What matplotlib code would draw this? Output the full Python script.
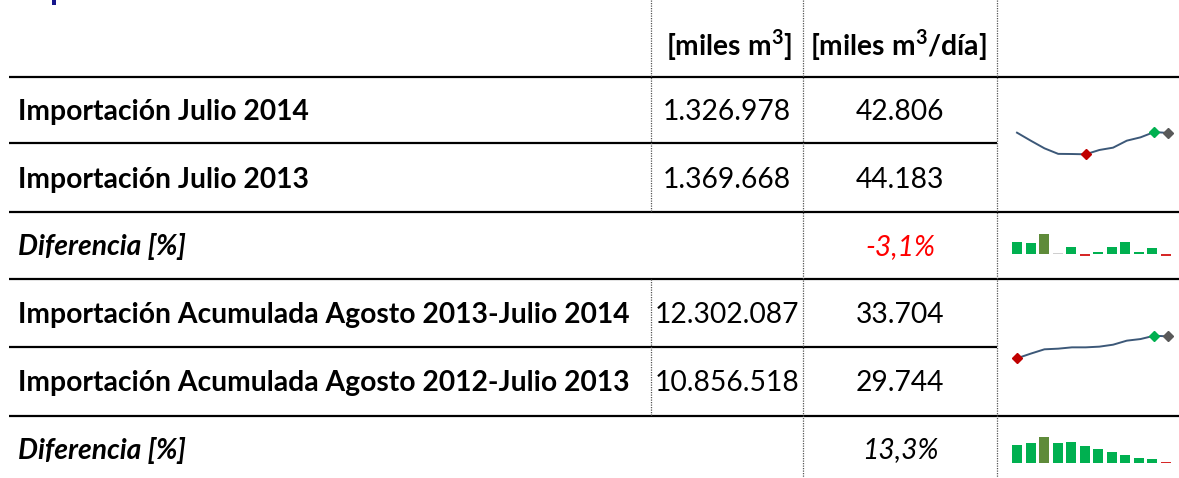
import matplotlib
matplotlib.use('Agg')
import matplotlib.pyplot as plt
from matplotlib.patches import Rectangle

plt.rcParams['font.family'] = ['Lato', 'DejaVu Sans']
plt.rcParams['mathtext.fontset'] = 'custom'
plt.rcParams['mathtext.rm'] = 'Lato'
plt.rcParams['mathtext.bf'] = 'Lato:weight=bold'

W, H = 1179, 478

# ---- data ----
row_labels = ['Importación Julio 2014', 'Importación Julio 2013', 'Diferencia [%]',
              'Importación Acumulada Agosto 2013-Julio 2014',
              'Importación Acumulada Agosto 2012-Julio 2013', 'Diferencia [%]']
col_headers = [r'[miles m$^{\mathbf{3}}$]', r'[miles m$^{\mathbf{3}}$/día]']
vol_total = ['1.326.978', '1.369.668', '', '12.302.087', '10.856.518', '']
vol_diario = ['42.806', '44.183', '-3,1%', '33.704', '29.744', '13,3%']

# sparkline values
mensual = [43.04, 37.52, 32.23, 28.4, 28.3, 28.1, 31.08, 32.69, 37.52, 39.82, 43.5, 42.81]
acumulado = [29.90, 30.71, 31.46, 31.57, 31.80, 31.80, 31.92, 32.26, 32.96, 33.24, 33.82, 33.70]
dif_mensual = [27.9, 27.0, 47.3, 2.0, 17.8, -3.4, 4.7, 16.3, 29.5, 5.4, 14.7, -3.1]
dif_acumulado = [30.3, 32.7, 38.0, 32.0, 33.3, 29.7, 26.7, 23.0, 20.3, 17.0, 16.3, 13.3]

fig = plt.figure(figsize=(W / 100, H / 100), dpi=100)
ax = fig.add_axes([0, 0, 1, 1])
ax.set_xlim(0, W)
ax.set_ylim(H, 0)
ax.axis('off')

# cut-off title mark at the top
ax.add_patch(Rectangle((52, 0), 4, 5, color='#16168C', lw=0))

# ---- grid ----
row_y = [77, 143, 212, 279, 347, 416]
for y in row_y:
    x_end = 997 if y in (143, 347) else W
    ax.plot([9, x_end], [y, y], color='black', lw=1.6, solid_capstyle='butt')

dot = dict(color='#555555', lw=0.9, linestyle=(0, (1, 1)))
ax.plot([803, 803], [0, H], **dot)
ax.plot([997, 997], [0, H], **dot)
ax.plot([651, 651], [0, 212], **dot)
ax.plot([651, 651], [279, 416], **dot)

# ---- text ----
fs = 13.5
probe = ax.text(18, 0, row_labels[3], fontsize=fs, fontweight='bold')
fig.canvas.draw()
w = probe.get_window_extent().width
probe.remove()
fs = fs * 609 / w

centers = [112, 180, 247, 315, 383, 450]
ax.text(729, 45, col_headers[0], ha='center', va='center', fontsize=fs, fontweight='bold')
ax.text(898, 45, col_headers[1], ha='center', va='center', fontsize=fs, fontweight='bold')

for i, y in enumerate(centers):
    diff = row_labels[i].startswith('Diferencia')
    ax.text(18, y, row_labels[i], ha='left', va='center', fontsize=fs, fontweight='bold',
            style='italic' if diff else 'normal')
    if vol_total[i]:
        ax.text(727, y, vol_total[i], ha='center', va='center', fontsize=fs)
    color = 'red' if vol_diario[i].startswith('-') else 'black'
    ax.text(900, y, vol_diario[i], ha='center', va='center', fontsize=fs,
            style='italic' if diff else 'normal', color=color)


# ---- sparklines ----
def px_axes(x0, x1, ytop, ybot):
    a = fig.add_axes([x0 / W, 1 - ybot / H, (x1 - x0) / W, (ybot - ytop) / H])
    a.axis('off')
    return a


def line_spark(a, vals):
    xs = range(len(vals))
    a.plot(xs, vals, color='#3C5878', lw=1.4, clip_on=False)
    hi = vals.index(max(vals))
    lo = vals.index(min(vals))
    a.plot(hi, vals[hi], 'D', color='#00B050', ms=4.8, clip_on=False)
    a.plot(lo, vals[lo], 'D', color='#C00000', ms=4.8, clip_on=False)
    a.plot(len(vals) - 1, vals[-1], 'D', color='#595959', ms=4.8, clip_on=False)
    a.set_xlim(0, len(vals) - 1)
    a.set_ylim(min(vals), max(vals))


def bar_spark(a, vals, bottom):
    hi = vals.index(max(vals))
    lo = min(vals)
    cols = []
    for i, v in enumerate(vals):
        if i == hi:
            cols.append('#5F8B3A')
        elif v < 0 or v == lo:
            cols.append('#D62828')
        elif abs(v) < 2.5:
            cols.append('#CFCFCF')
        else:
            cols.append('#00B050')
    a.bar(range(len(vals)), vals, width=0.74, color=cols)
    a.set_xlim(-0.5, len(vals) - 0.5)
    a.set_ylim(bottom, max(vals))


a1 = px_axes(1017, 1168, 132, 154.3)
line_spark(a1, mensual)

a2 = px_axes(1017, 1168, 335.7, 358.3)
line_spark(a2, acumulado)

a3 = px_axes(1010.3, 1172.7, 234, 255.8)
bar_spark(a3, dif_mensual, min(dif_mensual))

a4 = px_axes(1010.3, 1172.7, 437.3, 463.3)
bar_spark(a4, dif_acumulado, min(dif_acumulado) - 1.2)

fig.savefig('out.png', dpi=100, facecolor='white')
